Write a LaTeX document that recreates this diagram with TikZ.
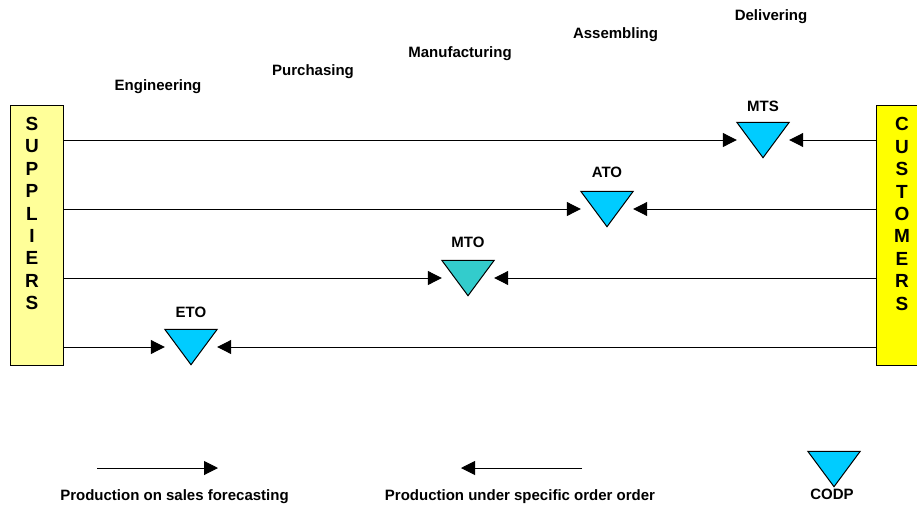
\documentclass[tikz,border=0pt]{standalone}
\usepackage{fontspec}
\setmainfont{Liberation Sans}
\usepackage{tikz}
\usetikzlibrary{positioning, arrows.meta}
\definecolor{SupYellow}{HTML}{FFFF99}
\definecolor{CusYellow}{HTML}{FFFF00}
\definecolor{CodpBlue}{HTML}{00CCFF}
\definecolor{CodpTeal}{HTML}{33CCCC}

\begin{document}
\begin{tikzpicture}[
      x=1pt, y=-1pt,
      txt/.style={font=\bfseries\fontsize{15}{18}\selectfont, inner sep=0pt},
      stage/.style={txt, anchor=base},
      side/.style={draw, line width=1pt, minimum width=53pt, minimum height=260pt, inner sep=0pt},
      letters/.style={font=\bfseries\fontsize{19}{22.4}\selectfont, align=center, inner sep=0pt},
      codp/.style={minimum width=52pt, minimum height=35pt, inner sep=0pt},
      tri/.style={draw, line width=1pt, line join=miter},
      flow/.style={line width=1pt, -{Triangle[length=14pt, width=14pt]}}
    ]
    \useasboundingbox (0,0) rectangle (917,506);
    % suppliers and customers
    \node[side, fill=SupYellow] (sup) at (36.5,235.5) {};
    \node[side, fill=CusYellow] (cus) at (902.5,235.5) {};
    \node[letters] (suptxt) at (32,213.5) {S\\U\\P\\P\\L\\I\\E\\R\\S};
    \node[letters] (custxt) at (902,214) {C\\U\\S\\T\\O\\M\\E\\R\\S};
    % stages
    \node[stage] (eng) at (158,90) {Engineering};
    \node[stage] (pur) at (313,75) {Purchasing};
    \node[stage] (man) at (460,57) {Manufacturing};
    \node[stage] (ass) at (615.5,38) {Assembling};
    \node[stage] (del) at (771,20) {Delivering};
    % decoupling points
    \node[codp] (mts) at (763,140) {};
    \node[codp] (ato) at (607,209) {};
    \node[codp] (mto) at (468,278) {};
    \node[codp] (eto) at (191,347) {};
    \draw[tri, fill=CodpBlue] (mts.north west) -- (mts.north east) -- (mts.south) -- cycle;
    \draw[tri, fill=CodpBlue] (ato.north west) -- (ato.north east) -- (ato.south) -- cycle;
    \draw[tri, fill=CodpTeal] (mto.north west) -- (mto.north east) -- (mto.south) -- cycle;
    \draw[tri, fill=CodpBlue] (eto.north west) -- (eto.north east) -- (eto.south) -- cycle;
    \node[txt] (mtstxt) [above=10pt of mts] {MTS};
    \node[txt] (atotxt) [above=13pt of ato] {ATO};
    \node[txt] (mtotxt) [above=12.5pt of mto] {MTO};
    \node[txt] (etotxt) [above=11.5pt of eto] {ETO};
    % flows
    \draw (sup.east |- mts) edge[flow] (mts.west);
    \draw (cus.west |- mts) edge[flow] (mts.east);
    \draw (sup.east |- ato) edge[flow] (ato.west);
    \draw (cus.west |- ato) edge[flow] (ato.east);
    \draw (sup.east |- mto) edge[flow] (mto.west);
    \draw (cus.west |- mto) edge[flow] (mto.east);
    \draw (sup.east |- eto) edge[flow] (eto.west);
    \draw (cus.west |- eto) edge[flow] (eto.east);
    % legend
    \coordinate (fa) at (97,468);
    \coordinate (fb) at (218,468);
    \coordinate (oa) at (582,468);
    \coordinate (ob) at (461,468);
    \draw (fa) edge[flow] (fb);
    \draw (oa) edge[flow] (ob);
    \node[codp] (key) at (834,469) {};
    \draw[tri, fill=CodpBlue] (key.north west) -- (key.north east) -- (key.south) -- cycle;
    \node[stage] (fctxt) at (174.5,500) {Production on sales forecasting};
    \node[stage] (ordtxt) at (520,500) {Production under specific order order};
    \node[stage] (keytxt) at (832,499) {CODP};
  \end{tikzpicture}
\end{document}
